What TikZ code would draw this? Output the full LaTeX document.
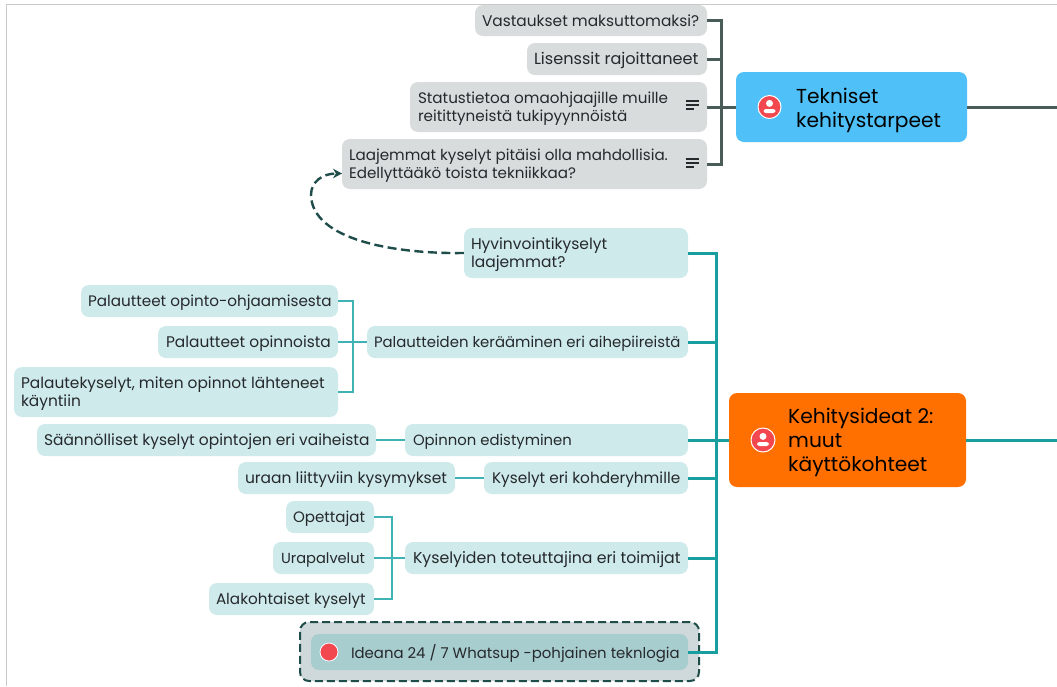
\documentclass[tikz,border=0pt]{standalone}
\usepackage{fontspec}
\setmainfont{Poppins}
\usetikzlibrary{arrows.meta,calc}
\definecolor{grayfill}{HTML}{D9DCDC}
\definecolor{tealfill}{HTML}{CEEAEB}
\definecolor{darkline}{HTML}{4A5C58}
\definecolor{tealline}{HTML}{189E9E}
\definecolor{thinline}{HTML}{3FB3B3}
\definecolor{dashline}{HTML}{1F4D4A}
\definecolor{frameline}{HTML}{C9C9C9}
\definecolor{skyfill}{HTML}{4FC1F8}
\definecolor{orangefill}{HTML}{FF7000}
\definecolor{redicon}{HTML}{F2474F}
\definecolor{ideafill}{HTML}{A8CDCF}
\definecolor{ideaouter}{HTML}{CFD8DA}
\definecolor{inktext}{HTML}{26292C}
\tikzset{
  x=1pt,y=-1pt,
  box/.style={rounded corners=8pt,inner sep=0pt},
  graybox/.style={box,fill=grayfill},
  tealbox/.style={box,fill=tealfill},
  boxtext/.style={anchor=west,inner sep=0pt,align=left,text=inktext},
  titlebox/.style={rounded corners=8pt,inner sep=0pt},
  titletext/.style={anchor=west,inner sep=0pt,align=left,text=black,font=\fontsize{20.2}{24}\selectfont},
  thick line/.style={line width=3pt},
  graylink/.style={thick line,draw=darkline},
  teallink/.style={thick line,draw=tealline},
  thinlink/.style={line width=1.2pt,draw=thinline},
  iconbg/.style={circle,fill=redicon,draw=white,line width=1pt,inner sep=0pt},
  notebar/.style={line width=1.1pt,draw=inktext},
}
% name, x1, y1, x2, y2, style, text, left padding, font size
\newcommand{\bx}[9]{%
  \pgfmathsetmacro{\bw}{#4-#2}\pgfmathsetmacro{\bh}{#5-#3}%
  \pgfmathsetmacro{\cx}{(#2+#4)/2}\pgfmathsetmacro{\cy}{(#3+#5)/2}%
  \node[#6,minimum width=\bw pt,minimum height=\bh pt] (#1) at (\cx,\cy) {};%
  \node[boxtext,font=\fontsize{#9}{18.4}\selectfont] (#1t) at ($(#1.west)+(#8,2)$) {\strut #7\strut};%
}
\newcommand{\noteicon}[1]{%
  \draw[notebar] ($(#1)+(-13.5,-4)$) -- ++(13,0);
  \draw[notebar] ($(#1)+(-13.5,0)$) -- ++(13,0);
  \draw[notebar] ($(#1)+(-13.5,4)$) -- ++(8.5,0);
}
\newcommand{\personicon}[2]{%
  \node[iconbg,minimum size=#2pt] (#1) at (#1pos) {};
  \fill[white] ($(#1)+(0,-3.6)$) circle (3.5pt);
  \fill[white,rounded corners=2.5pt] ($(#1)+(-6,6)$) -- ($(#1)+(-6,2)$) -- ($(#1)+(6,2)$) -- ($(#1)+(6,6)$) -- cycle;
}
\begin{document}
\begin{tikzpicture}
\useasboundingbox (0,0) rectangle (1057,686);
\fill[white] (0,0) rectangle (1057,686);
\coordinate (fa) at (6.5,686); \coordinate (fb) at (6.5,4.5); \coordinate (fc) at (1057,4.5);
\draw[frameline,line width=1.8pt] (fa) -- (fb) -- (fc);

% gray branch
\bx{vast}{475}{5}{707}{36}{graybox}{Vastaukset maksuttomaksi?}{7}{15.4}
\bx{lis}{527}{43}{707}{75}{graybox}{Lisenssit rajoittaneet}{7}{16.1}
\bx{stat}{410}{82}{707}{132}{graybox}{Statustietoa omaohjaajille muille\\reitittyneistä tukipyynnöistä}{8}{15.2}
\bx{laaj}{342}{139}{707}{189}{graybox}{Laajemmat kyselyt pitäisi olla mahdollisia.\\Edellyttääkö toista tekniikkaa?}{7}{15.15}
\bx{tek}{736}{72}{967}{142}{titlebox,fill=skyfill}{}{0}{15}
\node[titletext] (tekt) at (796,110.5) {\strut Tekniset\\kehitystarpeet\strut};
\coordinate (gs) at (721,107);
\coordinate (tekend) at (1057,107);
\draw[graylink] (vast.east) -| (gs);
\draw[graylink] (lis.east) -| (gs);
\draw[graylink] (laaj.east) -| (gs);
\draw[graylink] (stat.east) -- (tek.west);
\draw[graylink] (tek.east) -- (tekend);
\coordinate (n1) at (699,105); \coordinate (n2) at (699,163);
\noteicon{n1}
\noteicon{n2}
\coordinate (ticonpos) at (769.5,107);
\personicon{ticon}{23}

% teal branch nodes
\bx{hyv}{464}{228}{688}{278}{tealbox}{Hyvinvointikyselyt\\laajemmat?}{7}{15.5}
\bx{pal}{367}{326}{688}{358}{tealbox}{Palautteiden kerääminen eri aihepiireistä}{7}{14.9}
\bx{opin}{405}{424}{688}{456}{tealbox}{Opinnon edistyminen}{8}{14.85}
\bx{kys}{484}{462}{688}{494}{tealbox}{Kyselyt eri kohderyhmille}{8}{15.3}
\bx{tot}{405}{542}{688}{574}{tealbox}{Kyselyiden toteuttajina eri toimijat}{8}{15.75}
\bx{po}{81}{285}{338}{317}{tealbox}{Palautteet opinto-ohjaamisesta}{7}{15.2}
\bx{pn}{158}{326}{338}{358}{tealbox}{Palautteet opinnoista}{8}{15.4}
\bx{pk}{14}{367}{338}{417}{tealbox}{Palautekyselyt, miten opinnot lähteneet\\käyntiin}{7}{15.4}
\bx{saa}{37}{424}{376}{456}{tealbox}{Säännölliset kyselyt opintojen eri vaiheista}{7}{15.45}
\bx{ura}{238}{462}{455}{494}{tealbox}{uraan liittyviin kysymykset}{7}{15.5}
\bx{ope}{286}{501}{374}{533}{tealbox}{Opettajat}{7}{15.1}
\bx{upa}{273}{542}{374}{574}{tealbox}{Urapalvelut}{8}{14.6}
\bx{ala}{209}{583}{374}{615}{tealbox}{Alakohtaiset kyselyt}{7}{15.2}

% idea
\bx{outer}{300}{622}{699}{681}{box,fill=ideaouter,draw=dashline,line width=2pt,dash pattern=on 8pt off 4pt,rounded corners=9pt}{}{0}{15}
\bx{idea}{311}{634}{688}{670}{box,fill=ideafill}{Ideana 24 / 7 Whatsup -pohjainen teknlogia}{40}{14.9}
\node[iconbg,minimum size=18pt,line width=.8pt] (idot) at (329,652) {};

% Kehitys
\bx{keh}{729}{393}{966}{487}{titlebox,fill=orangefill}{}{0}{15}
\node[titletext] (keht) at (788,443) {\strut Kehitysideat 2:\\muut\\käyttökohteet\strut};
\coordinate (ts) at (716,440);
\coordinate (kehend) at (1057,440);
\draw[teallink] (hyv.east) -| (ts);
\draw[teallink] (pal.east) -| (ts);
\draw[teallink] (kys.east) -| (ts);
\draw[teallink] (tot.east) -| (ts);
\draw[teallink] (idea.east) -| (ts);
\draw[teallink] (opin.east) -- (keh.west);
\draw[teallink] (keh.east) -- (kehend);
\coordinate (kiconpos) at (763,440);
\personicon{kicon}{24}

% thin connectors
\coordinate (s1) at (353,342);
\draw[thinlink] (po.east) -| (s1);
\draw[thinlink] (pk.east) -| (s1);
\draw[thinlink] (pn.east) -- (pal.west);
\draw[thinlink] (saa.east) -- (opin.west);
\draw[thinlink] (ura.east) -- (kys.west);
\coordinate (s2) at (392,558);
\draw[thinlink] (ope.east) -| (s2);
\draw[thinlink] (ala.east) -| (s2);
\draw[thinlink] (upa.east) -- (tot.west);

% dashed relation
\coordinate (laajin) at (342,173.5);
\draw[dashline,line width=2.4pt,dash pattern=on 9pt off 4.5pt,-{Stealth[length=9pt,width=9.5pt]}]
  (hyv.west) .. controls (395,254) and (312,240) .. (311,195) .. controls (311,182) and (322,173.5) .. (laajin);
\end{tikzpicture}
\end{document}
